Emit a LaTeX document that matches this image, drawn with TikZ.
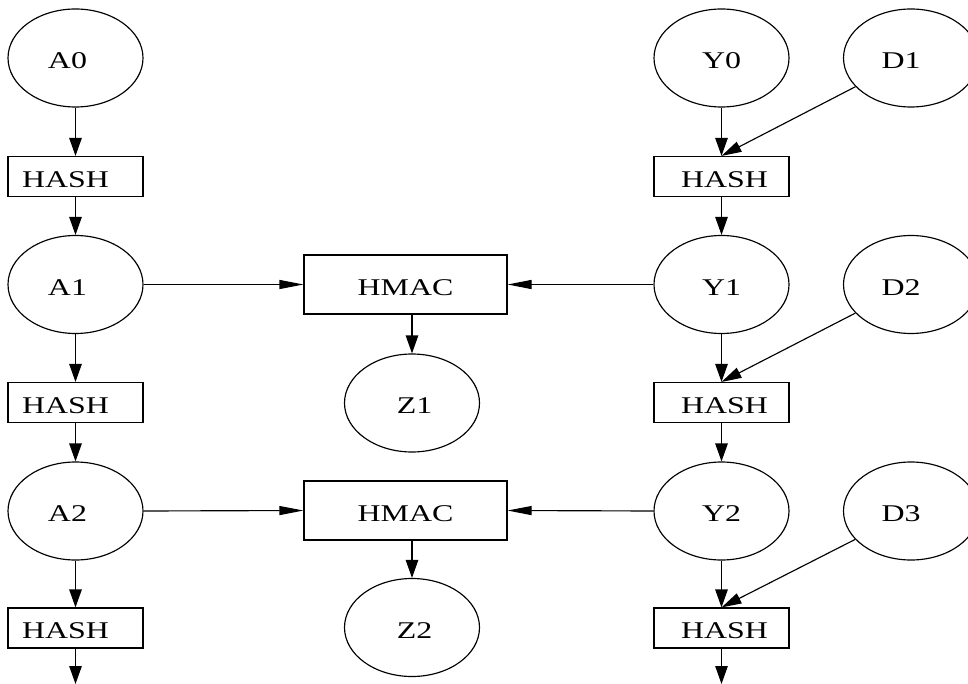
\documentclass[tikz,border=0pt]{standalone}
\usepackage{fontspec}
\newfontfamily\lblfont[FakeStretch=1.33]{Liberation Serif}
\usetikzlibrary{shapes.geometric,arrows.meta}
\begin{document}
\begin{tikzpicture}[x=1pt,y=1pt,line width=1.15pt,
  every node/.style={font=\lblfont\fontsize{24}{28}\selectfont,
    text height=21.5pt,text depth=0pt,inner sep=0pt},
  oval/.style={draw,ellipse,minimum width=135pt,minimum height=98pt},
  hashbox/.style={draw,rectangle,minimum width=135pt,minimum height=40pt},
  macbox/.style={draw,rectangle,minimum width=203pt,minimum height=59pt},
  vflow/.style={-{Triangle[length=18pt,width=12.5pt]}},
  hflow/.style={-{Triangle[length=24pt,width=9pt]}},
  dflow/.style={-{Triangle[length=20pt,width=11pt]}}]
\useasboundingbox (0,0) rectangle (968,-684);

% left chain
\node[oval]    (A0) at (75.5,-58)    {A0\hspace*{16pt}};
\node[hashbox] (HA0) at (75.5,-176.5) {HASH\hspace*{20pt}};
\node[oval]    (A1) at (75.5,-284.5) {A1\hspace*{16pt}};
\node[hashbox] (HA1) at (75.5,-402.5) {HASH\hspace*{20pt}};
\node[oval]    (A2) at (75.5,-511)   {A2\hspace*{16pt}};
\node[hashbox] (HA2) at (75.5,-628)   {HASH\hspace*{20pt}};
\coordinate (AEnd) at (75.5,-684);

% right chain
\node[oval]    (Y0) at (721.5,-58)    {Y0};
\node[hashbox] (HY0) at (721.5,-176.5) {\hspace*{6pt}HASH};
\node[oval]    (Y1) at (721.5,-284.5) {Y1};
\node[hashbox] (HY1) at (721.5,-402.5) {\hspace*{6pt}HASH};
\node[oval]    (Y2) at (721.5,-511)   {Y2};
\node[hashbox] (HY2) at (721.5,-628)   {\hspace*{6pt}HASH};
\coordinate (YEnd) at (721.5,-684);

% data inputs
\node[oval] (D1) at (911,-58)    {D1\hspace*{20pt}};
\node[oval] (D2) at (911,-284.5) {D2\hspace*{20pt}};
\node[oval] (D3) at (911,-511)   {D3\hspace*{20pt}};

% middle column
\node[macbox] (M1) at (405.5,-284.5) {HMAC};
\node[oval]   (Z1) at (412,-403)     {\hspace*{5pt}Z1};
\node[macbox] (M2) at (405.5,-510.5) {HMAC};
\node[oval]   (Z2) at (412,-627.5)   {\hspace*{5pt}Z2};

% left chain connectors
\draw[vflow] (A0.south) -- (HA0.north);
\draw[vflow] (HA0.south) -- (A1.north);
\draw[vflow] (A1.south) -- (HA1.north);
\draw[vflow] (HA1.south) -- (A2.north);
\draw[vflow] (A2.south) -- (HA2.north);
\draw[vflow] (HA2.south) -- (AEnd);

% right chain connectors
\draw[vflow] (Y0.south) -- (HY0.north);
\draw[vflow] (HY0.south) -- (Y1.north);
\draw[vflow] (Y1.south) -- (HY1.north);
\draw[vflow] (HY1.south) -- (Y2.north);
\draw[vflow] (Y2.south) -- (HY2.north);
\draw[vflow] (HY2.south) -- (YEnd);

% data into hashes
\draw[dflow] (D1) -- (HY0.north);
\draw[dflow] (D2) -- (HY1.north);
\draw[dflow] (D3) -- (HY2.north);

% HMAC inputs and outputs
\draw[hflow] (A1.east) -- (M1.west);
\draw[hflow] (Y1.west) -- (M1.east);
\draw[hflow] (A2.east) -- (M2.west);
\draw[hflow] (Y2.west) -- (M2.east);
\draw[vflow] (M1.south -| Z1) -- (Z1.north);
\draw[vflow] (M2.south -| Z2) -- (Z2.north);
\end{tikzpicture}
\end{document}
